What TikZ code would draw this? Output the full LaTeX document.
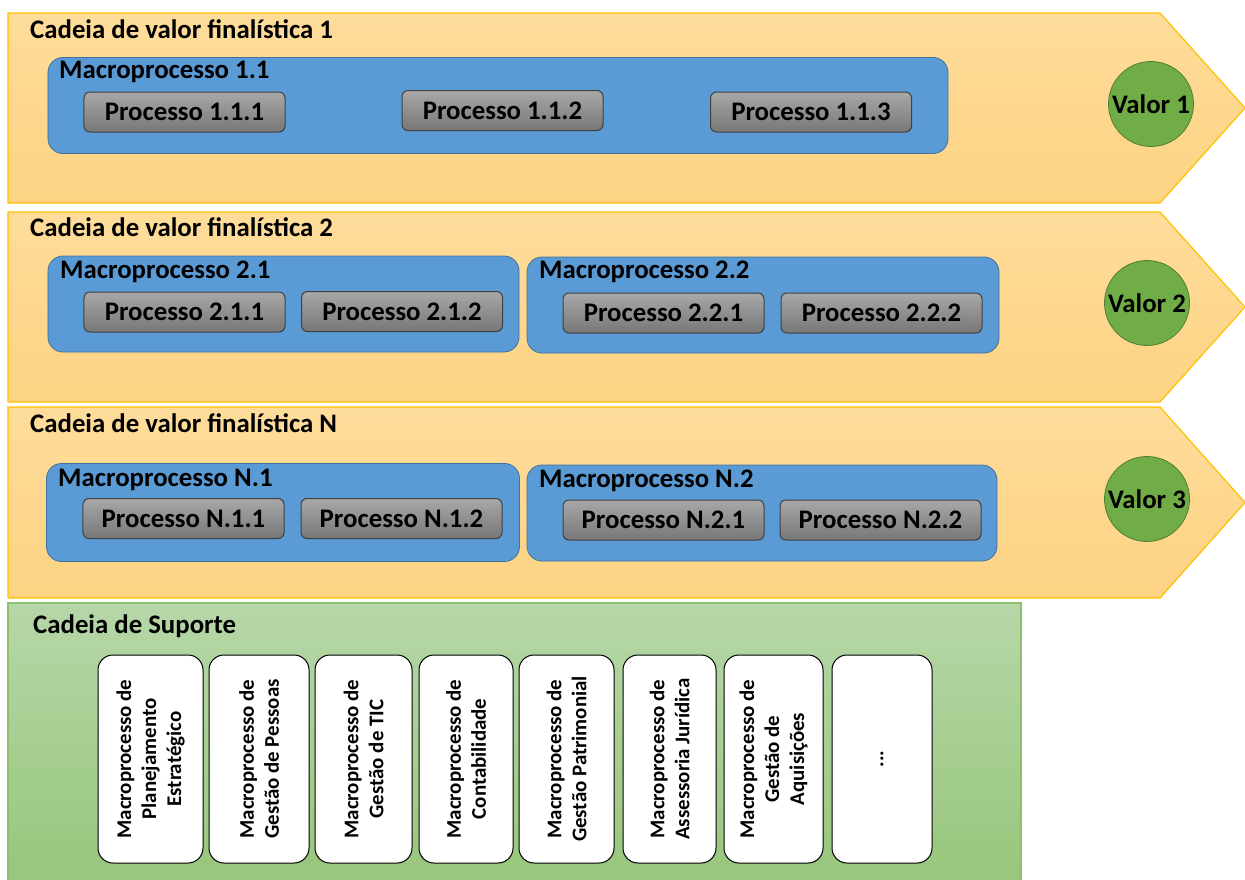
\documentclass[tikz,border=0pt]{standalone}
\usepackage{fontspec}
\setmainfont{Carlito}
\definecolor{chevtop}{HTML}{FEDC9A}
\definecolor{chevbot}{HTML}{FDD383}
\definecolor{chevline}{HTML}{FFC000}
\definecolor{macrofill}{HTML}{5B9BD5}
\definecolor{macroline}{HTML}{41719C}
\definecolor{proctop}{HTML}{A8A8A8}
\definecolor{procbot}{HTML}{777777}
\definecolor{procline}{HTML}{404040}
\definecolor{valfill}{HTML}{70AD47}
\definecolor{valline}{HTML}{507E32}
\definecolor{suptop}{HTML}{B6D7A8}
\definecolor{supbot}{HTML}{97C67B}
\definecolor{supline}{HTML}{8CC16B}
\tikzset{
  bigfont/.style={font=\fontsize{26.8bp}{30bp}\selectfont\bfseries},
  chev/.style={draw=chevline, line width=1.2bp, top color=chevtop, bottom color=chevbot},
  title/.style={bigfont, anchor=base west, inner sep=0pt},
  macro/.style={draw=macroline, line width=0.8bp, fill=macrofill, rounded corners=15bp, inner sep=0pt},
  proc/.style={draw=procline, line width=1bp, top color=proctop, bottom color=procbot, rounded corners=6bp,
    minimum width=201bp, minimum height=40bp, inner sep=0pt, bigfont},
  valor/.style={circle, draw=valline, line width=0.8bp, fill=valfill, minimum size=85bp, inner sep=0pt, bigfont},
  supbox/.style={draw=black, line width=1bp, fill=white, rounded corners=15bp, inner sep=0pt,
    minimum height=208bp},
  suptext/.style={rotate=90, align=center, inner sep=0pt, font=\fontsize{20.9bp}{25bp}\selectfont\bfseries}
}
\begin{document}
\begin{tikzpicture}[x=1bp,y=-1bp]
\useasboundingbox (0,0) rectangle (1245,880);
\clip (0,0) rectangle (1245,880);
% value chains
\path[chev] (8,13) -- (1160,13) -- (1245,108) -- (1160,203) -- (8,203) -- cycle;
\path[chev] (8,212) -- (1160,212) -- (1245,307) -- (1160,402) -- (8,402) -- cycle;
\path[chev] (8,407) -- (1160,407) -- (1245,502.5) -- (1160,598) -- (8,598) -- cycle;
% support chain
\path[draw=supline, line width=1.2bp, top color=suptop, bottom color=supbot] (8,603) rectangle (1021,884);

\node[title] (t1) at (30,38) {Cadeia de valor finalística 1};
\node[title] (t2) at (30,236) {Cadeia de valor finalística 2};
\node[title] (t3) at (30,432) {Cadeia de valor finalística N};
\node[title] (ts) at (33,633) {Cadeia de Suporte};

% macroprocess boxes
\node[macro, minimum width=900bp, minimum height=96bp] (m11) at (498,105.5) {};
\node[macro, minimum width=471bp, minimum height=96bp] (m21) at (283.5,304) {};
\node[macro, minimum width=472bp, minimum height=96bp] (m22) at (763,305) {};
\node[macro, minimum width=473bp, minimum height=98bp] (mn1) at (283,512.5) {};
\node[macro, minimum width=470bp, minimum height=96bp] (mn2) at (762,513) {};

\node[title] (lm11) at (59,78) {Macroprocesso 1.1};
\node[title] (lm21) at (60,278) {Macroprocesso 2.1};
\node[title] (lm22) at (539,278) {Macroprocesso 2.2};
\node[title] (lmn1) at (58,486) {Macroprocesso N.1};
\node[title] (lmn2) at (539,487) {Macroprocesso N.2};

% processes
\node[proc] (p111) at (184.5,112) {Processo 1.1.1};
\node[proc] (p112) at (502.5,110.5) {Processo 1.1.2};
\node[proc] (p113) at (811,112) {Processo 1.1.3};
\node[proc] (p211) at (184.5,312) {Processo 2.1.1};
\node[proc] (p212) at (402,311.5) {Processo 2.1.2};
\node[proc] (p221) at (663.5,313) {Processo 2.2.1};
\node[proc] (p222) at (881.5,313) {Processo 2.2.2};
\node[proc] (pn11) at (183.5,518.5) {Processo N.1.1};
\node[proc] (pn12) at (401.5,518.5) {Processo N.1.2};
\node[proc] (pn21) at (663.5,520) {Processo N.2.1};
\node[proc] (pn22) at (880.5,520) {Processo N.2.2};

% values
\node[valor] (v1) at (1151,104) {Valor 1};
\node[valor] (v2) at (1147,303) {Valor 2};
\node[valor] (v3) at (1147,499) {Valor 3};

% support macroprocesses
\node[supbox, minimum width=105bp] (s1) at (150.5,759) {};
\node[supbox, minimum width=100bp] (s2) at (259,759) {};
\node[supbox, minimum width=97bp] (s3) at (363.5,759) {};
\node[supbox, minimum width=94bp] (s4) at (466,759) {};
\node[supbox, minimum width=95bp] (s5) at (566.5,759) {};
\node[supbox, minimum width=93bp] (s6) at (669.5,759) {};
\node[supbox, minimum width=99bp] (s7) at (773.5,759) {};
\node[supbox, minimum width=100bp] (s8) at (882,759) {};

\node[suptext] (st1) at (s1) {Macroprocesso de\\Planejamento\\Estratégico};
\node[suptext] (st2) at (s2) {Macroprocesso de\\Gestão de Pessoas};
\node[suptext] (st3) at (s3) {Macroprocesso de\\Gestão de TIC};
\node[suptext] (st4) at (s4) {Macroprocesso de\\Contabilidade};
\node[suptext] (st5) at (s5) {Macroprocesso de\\Gestão Patrimonial};
\node[suptext] (st6) at (s6) {Macroprocesso de\\Assessoria Jurídica};
\node[suptext] (st7) at (s7) {Macroprocesso de\\Gestão de\\Aquisições};
\node[suptext] (st8) at (s8) {...};
\end{tikzpicture}
\end{document}
